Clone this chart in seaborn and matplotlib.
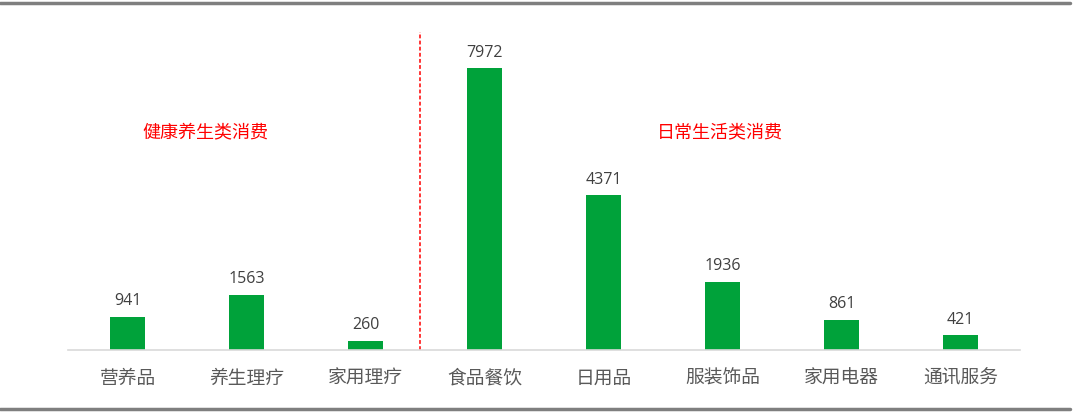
import matplotlib
matplotlib.use("Agg")
import matplotlib.pyplot as plt
import seaborn as sns
import pandas as pd

categories = ["营养品", "养生理疗", "家用理疗", "食品餐饮", "日用品", "服装饰品", "家用电器", "通讯服务"]
values = [941, 1563, 260, 7972, 4371, 1936, 861, 421]
group_labels = ["健康养生类消费", "日常生活类消费"]

sns.set_theme(style="white")
plt.rcParams['font.family'] = ['Noto Sans CJK SC', 'DejaVu Sans']

df = pd.DataFrame({"cat": categories, "val": values})

W, H = 1080, 414
fig = plt.figure(figsize=(W / 100, H / 100), dpi=100)
ax = fig.add_axes([68 / W, (H - 351) / H, (1020 - 68) / W, (351 - 32.7) / H])

sns.barplot(data=df, x="cat", y="val", color="#00A23A", width=0.294,
            saturation=1, ax=ax, edgecolor="none")

ax.set_xlim(-0.5, 7.5)
ax.set_ylim(0, 9000)
ax.set_xlabel("")
ax.set_ylabel("")
ax.set_yticks([])
for s in ["top", "right", "left"]:
    ax.spines[s].set_visible(False)
ax.spines["bottom"].set_color("#D9D9D9")
ax.spines["bottom"].set_linewidth(1.2)
ax.tick_params(axis="x", length=0, pad=12, labelsize=13.5, labelcolor="#595959")

for i, v in enumerate(values):
    ax.annotate(str(v), (i, v), xytext=(0, 6), textcoords="offset points",
                ha="center", va="bottom", fontsize=11.5, color="#404040",
                family=["Open Sans", "DejaVu Sans"])

ax.axvline(2.455, ymin=0, ymax=1.0, color="#FF0000", linestyle=(0, (2.5, 1.5)),
           linewidth=1.1, clip_on=False)

fig.text(205 / W, 1 - 132 / H, group_labels[0], color="#FF0000", fontsize=13,
         ha="center", va="center")
fig.text(720 / W, 1 - 132 / H, group_labels[1], color="#FF0000", fontsize=13,
         ha="center", va="center")

fig.add_artist(plt.Line2D([0, 1070 / W], [1 - 4 / H, 1 - 4 / H], color="#7F7F7F",
                          linewidth=2.5, transform=fig.transFigure))
fig.add_artist(plt.Line2D([0, 1070 / W], [1 - 409.5 / H, 1 - 409.5 / H], color="#7F7F7F",
                          linewidth=2.5, transform=fig.transFigure))

fig.savefig("out.png", dpi=100)
